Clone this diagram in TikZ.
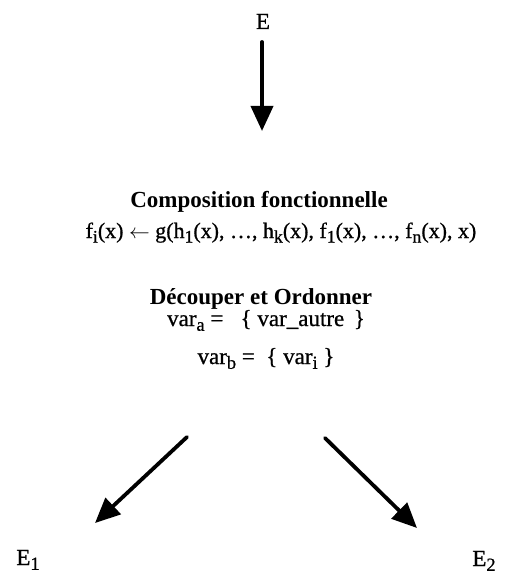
\documentclass[tikz,border=0pt]{standalone}
\usepackage{fontspec}
\setmainfont{Liberation Serif}[UprightFeatures={FakeBold=0.8}]
\usetikzlibrary{arrows.meta}
\newcommand{\ind}[1]{\raisebox{-0.45ex}{\scalebox{0.8}{#1}}}
\begin{document}
\begin{tikzpicture}[x=1pt,y=-1pt,line join=round,line cap=round,
  fleche/.style={line width=3.8pt,-{Triangle[length=25pt,width=22pt]}},
  txt/.style={anchor=base,inner sep=0pt,font=\fontsize{23}{27}\selectfont},
  titre/.style={txt,font=\fontsize{23}{27}\selectfont\bfseries}]
\useasboundingbox (0,0) rectangle (509,575);
% entree
\node[txt] (E) at (263,29) {E};
\coordinate (e0) at (262,42);
\coordinate (e1) at (262,131);
\draw[fleche] (e0) -- (e1);
% composition
\node[titre] (comp) at (259,207) {Composition fonctionnelle};
\node[txt,font=\fontsize{22}{26}\selectfont] (form) at (281,238) {f\ind{i}(x) $\leftarrow$ g(h\ind{1}(x), \dots, h\ind{k}(x), f\ind{1}(x), \dots, f\ind{n}(x), x)};
% decoupage
\node[titre] (dec) at (261,304) {Découper et Ordonner};
\node[txt] (vara) at (266,326) {var\ind{a}\ =\ \ \ \{ var\_autre \,\}};
\node[txt] (varb) at (266,364) {var\ind{b} =\ \ \{ var\ind{i} \}};
% sorties
\coordinate (g0) at (187,437);
\coordinate (g1) at (95,523);
\coordinate (d0) at (325,438);
\coordinate (d1) at (417,528);
\draw[fleche] (g0) -- (g1);
\draw[fleche] (d0) -- (d1);
\node[txt] (E1) at (28,565) {E\ind{1}};
\node[txt] (E2) at (484,566) {E\ind{2}};
\end{tikzpicture}
\end{document}
